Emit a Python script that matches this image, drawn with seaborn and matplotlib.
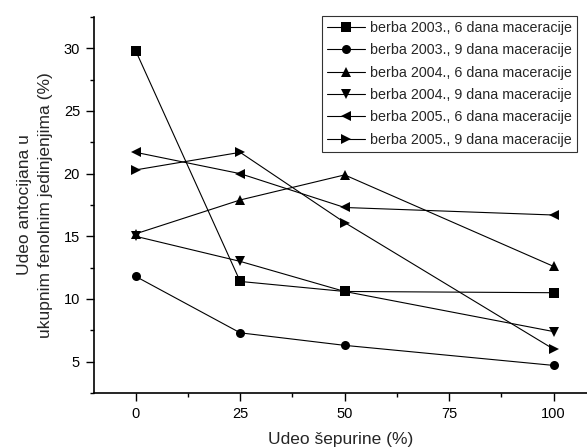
import matplotlib
matplotlib.use("Agg")
import matplotlib.pyplot as plt
from matplotlib.ticker import MultipleLocator
import seaborn as sns
import pandas as pd

x_vals = [0, 25, 50, 100]
series_names = [
    "berba 2003., 6 dana maceracije",
    "berba 2003., 9 dana maceracije",
    "berba 2004., 6 dana maceracije",
    "berba 2004., 9 dana maceracije",
    "berba 2005., 6 dana maceracije",
    "berba 2005., 9 dana maceracije",
]
s2003_6 = [29.8, 11.4, 10.6, 10.5]
s2003_9 = [11.8, 7.3, 6.3, 4.7]
s2004_6 = [15.2, 17.9, 19.9, 12.6]
s2004_9 = [15.0, 13.0, 10.6, 7.4]
s2005_6 = [21.7, 20.0, 17.3, 16.7]
s2005_9 = [20.3, 21.7, 16.1, 6.0]
all_series = [s2003_6, s2003_9, s2004_6, s2004_9, s2005_6, s2005_9]
marker_list = ["s", "o", "^", "v", "<", ">"]

rows = []
for name, vals in zip(series_names, all_series):
    for xv, yv in zip(x_vals, vals):
        rows.append({"x": xv, "y": yv, "serija": name})
df = pd.DataFrame(rows)

sns.set_style("white")
plt.rcParams["font.family"] = ["Liberation Sans", "DejaVu Sans"]

fig = plt.figure(figsize=(5.87, 4.48), dpi=100)
ax = fig.add_axes([0.160, 0.1228, 0.840, 0.8393])

sns.lineplot(
    data=df, x="x", y="y", hue="serija", style="serija",
    hue_order=series_names, style_order=series_names,
    palette=["black"] * 6, markers=dict(zip(series_names, marker_list)),
    dashes=False, markersize=6.5, linewidth=0.8, markeredgewidth=0,
    ax=ax,
)

ax.set_xlim(-10, 108)
ax.set_ylim(2.5, 32.5)
ax.xaxis.set_major_locator(MultipleLocator(25))
ax.xaxis.set_minor_locator(MultipleLocator(12.5))
ax.yaxis.set_major_locator(MultipleLocator(5))
ax.yaxis.set_minor_locator(MultipleLocator(2.5))
ax.set_yticks([5, 10, 15, 20, 25, 30])
ax.tick_params(axis="both", which="major", direction="out", length=6, width=1,
               labelsize=10.5, color="black", labelcolor="black", pad=4,
               bottom=True, left=True)
ax.tick_params(axis="both", which="minor", direction="out", length=3, width=1,
               color="black", bottom=True, left=True)
for s in ["top", "right"]:
    ax.spines[s].set_visible(False)
for s in ["left", "bottom"]:
    ax.spines[s].set_color("black")
    ax.spines[s].set_linewidth(1.2)

ax.set_xlabel("Udeo šepurine (%)", fontsize=12.5, labelpad=8)
ax.set_ylabel("Udeo antocijana u\nukupnim fenolnim jedinjenjima (%)", fontsize=12.5,
              labelpad=8, linespacing=1.45)

leg = ax.legend(loc="upper right", bbox_to_anchor=(0.985, 1.01), fontsize=10.3,
                frameon=True, fancybox=False, edgecolor="black",
                handlelength=2.7, handletextpad=0.3, borderpad=0.35,
                labelspacing=0.58, borderaxespad=0.2)
leg.get_frame().set_linewidth(0.8)

fig.savefig("out.png", dpi=100)
